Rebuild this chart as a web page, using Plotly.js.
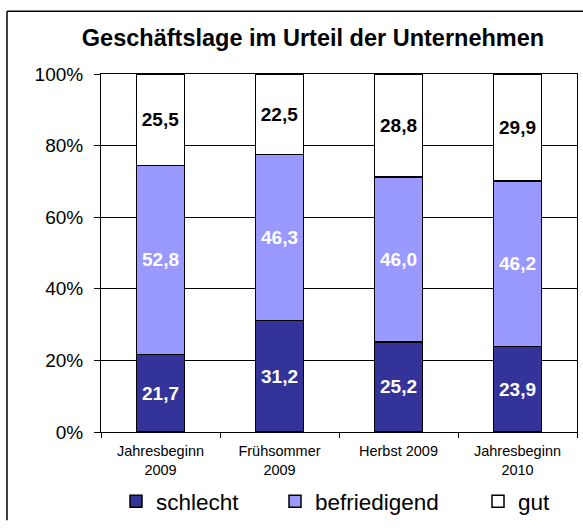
<!DOCTYPE html>
<html><head><meta charset="utf-8">
<script src="https://cdn.plot.ly/plotly-3.0.1.min.js"></script>
<style>html,body{margin:0;padding:0;background:#fff;overflow:hidden;}#c{width:583px;height:529px;}</style>
</head><body><div id="c"></div>
<script>
const categories = ["Jahresbeginn<br>2009", "Frühsommer<br>2009", "Herbst 2009", "Jahresbeginn<br>2010"];
const schlecht = [21.7, 31.2, 25.2, 23.9];
const befriedigend = [52.8, 46.3, 46.0, 46.2];
const gut = [25.5, 22.5, 28.8, 29.9];
const yTicks = [0, 20, 40, 60, 80, 100];

const FONT = 'Liberation Sans, Arial';
const common = {
  type: 'bar', x: categories, width: 0.4,
  texttemplate: '%{y:.1f}', textposition: 'inside', insidetextanchor: 'middle',
  textangle: 0, constraintext: 'none', hoverinfo: 'none'
};
const data = [
  Object.assign({}, common, {name: 'schlecht', y: schlecht, legendwidth: 114,
    marker: {color: '#333399', line: {color: '#000', width: 1.5}},
    textfont: {family: FONT, size: 19, color: '#fff', weight: 'bold'}}),
  Object.assign({}, common, {name: 'befriedigend', y: befriedigend, legendwidth: 158,
    marker: {color: '#9999FF', line: {color: '#000', width: 1.5}},
    textfont: {family: FONT, size: 19, color: '#fff', weight: 'bold'}}),
  Object.assign({}, common, {name: 'gut', y: gut, legendwidth: 35,
    marker: {color: '#FFFFFF', line: {color: '#000', width: 1.5}},
    textfont: {family: FONT, size: 19, color: '#000', weight: 'bold'}})
];
const W = 476;
const bx = (7-101)/W, bxr = (583-101)/W, by0 = -(529-439)/365, by1 = (439-10)/365;
const layout = {
  width: 583, height: 529,
  margin: {l: 101, r: 6, t: 74, b: 90},
  barmode: 'stack', separators: ',.',
  paper_bgcolor: '#fff', plot_bgcolor: '#fff',
  font: {family: FONT, color: '#000'},
  title: {text: '<b>Geschäftslage im Urteil der Unternehmen</b>', x: (313-101)/W, xanchor: 'center', xref: 'paper',
    y: 1 - 38/529, yanchor: 'middle', font: {size: 23.5, color: '#000', family: FONT}},
  xaxis: {type: 'category', showline: true, linecolor: '#000', linewidth: 1, mirror: true,
    ticks: 'outside', tickson: 'boundaries', ticklen: 5, tickcolor: '#000', ticklabelstandoff: 6,
    tickfont: {size: 14.5, color: '#000'}, showgrid: false, fixedrange: true},
  yaxis: {range: [0, 100], tickvals: yTicks, ticktext: yTicks.map(v => v + '%'),
    showline: true, linecolor: '#000', linewidth: 1, mirror: true,
    ticks: 'outside', ticklen: 6, tickcolor: '#000', ticklabelstandoff: 7,
    showgrid: true, gridcolor: '#000', gridwidth: 1, zeroline: false,
    tickfont: {size: 19, color: '#000'}, fixedrange: true},
  showlegend: true,
  legend: {orientation: 'h', x: (116-101)/W, xanchor: 'left', y: -(510-439)/365, yanchor: 'middle',
    font: {size: 22.5, color: '#000'}, traceorder: 'normal', itemwidth: 30, entrywidthmode: 'pixels'},
  shapes: [
    {type: 'line', xref: 'paper', yref: 'paper', x0: bx, x1: bx, y0: by0, y1: by1,
     line: {color: '#000', width: 1.5}, layer: 'below'},
    {type: 'line', xref: 'paper', yref: 'paper', x0: bx, x1: bxr, y0: by1, y1: by1,
     line: {color: '#000', width: 1.5}, layer: 'below'}
  ]
};
Plotly.newPlot('c', data, layout, {staticPlot: true});
</script></body></html>
